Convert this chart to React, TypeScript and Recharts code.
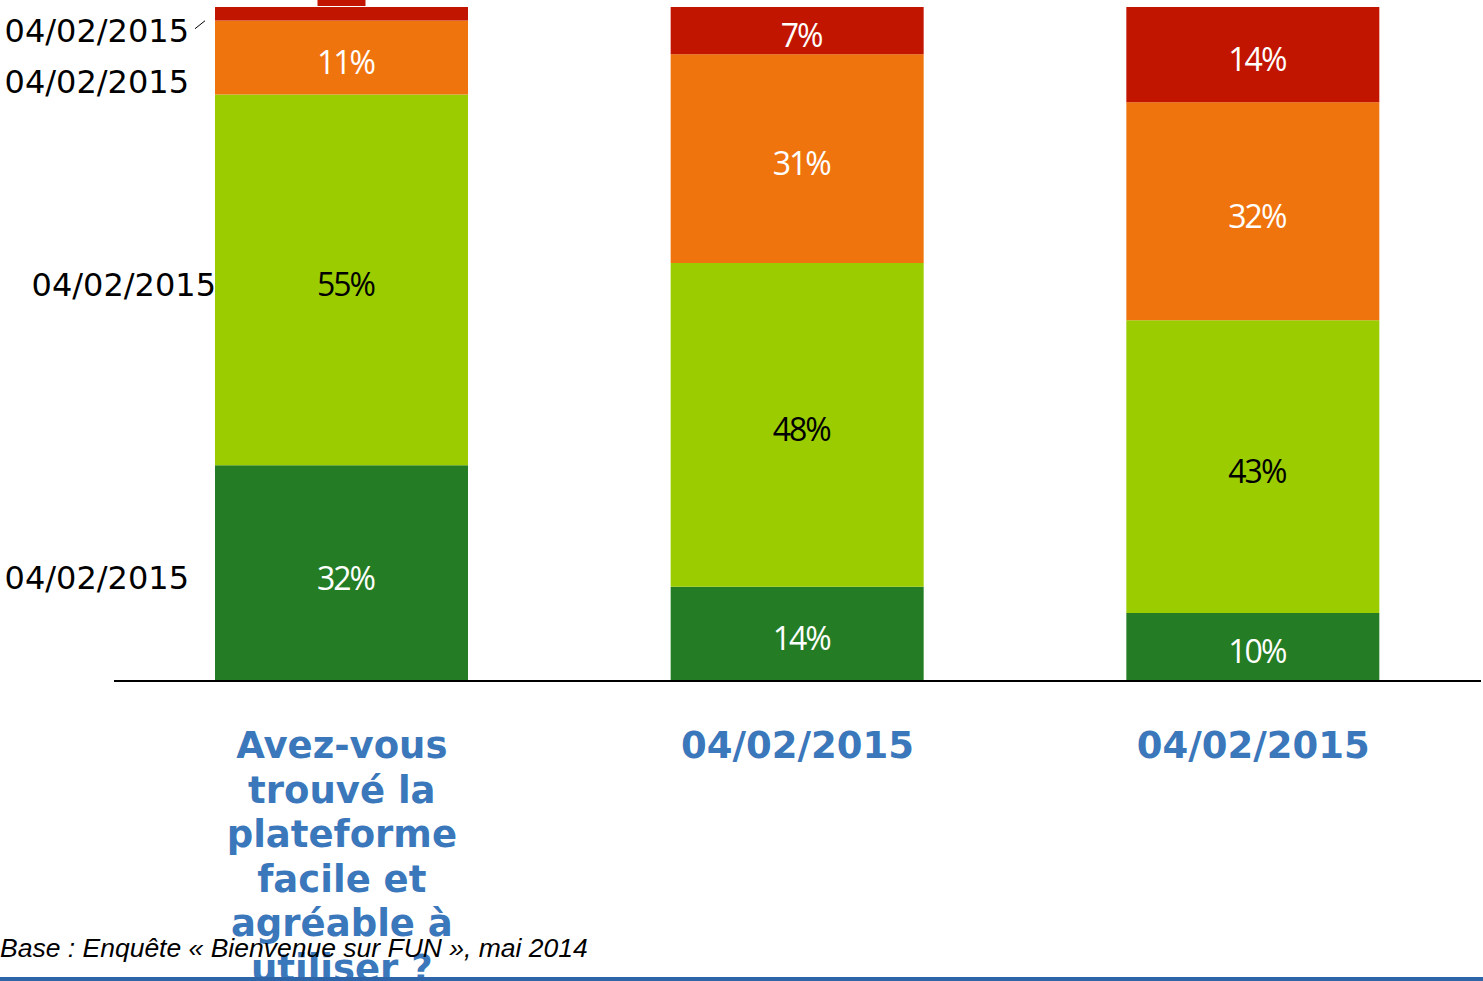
import React from 'react';
import { BarChart, Bar, XAxis, YAxis, LabelList } from 'recharts';

// questions on the x axis
const categories = [
  'Avez-vous trouvé la plateforme facile et agréable à utiliser ?',
  '04/02/2015',
  '04/02/2015',
];

// answer shares (%) per question, bottom to top of the stack
const tresFacile = [32, 14, 10];
const plutotFacile = [55, 48, 43];
const plutotDifficile = [11, 31, 32];
const tresDifficile = [2, 7, 14];

const seriesNames = ['04/02/2015', '04/02/2015', '04/02/2015', '04/02/2015'];

const footerText = 'Base : Enquête « Bienvenue sur FUN », mai 2014';

const data = categories.map((name, i) => ({
  name,
  s0: tresFacile[i],
  s1: plutotFacile[i],
  s2: plutotDifficile[i],
  s3: tresDifficile[i],
}));

const series = [
  { key: 's0', fill: '#247d24', text: '#ffffff', dx: -27, dy: 4.5 },
  { key: 's1', fill: '#9acc00', text: '#000000', dx: 0, dy: 4.5 },
  { key: 's2', fill: '#f0740e', text: '#ffffff', dx: -27, dy: 24 },
  { key: 's3', fill: '#c21500', text: '#ffffff', dx: -27, dy: 17, leader: true },
];

const valueFont = '"Open Sans", sans-serif';
const sansFont = '"DejaVu Sans", sans-serif';

const wrap = (s: string, max: number) => {
  const lines: string[] = [];
  let cur = '';
  s.split(' ').forEach((w) => {
    if (!cur) cur = w;
    else if ((cur + ' ' + w).length <= max) cur += ' ' + w;
    else {
      lines.push(cur);
      cur = w;
    }
  });
  if (cur) lines.push(cur);
  return lines;
};

const CategoryTick = (props: any) => {
  const { x, y, payload } = props;
  const lines = wrap(String(payload.value), 10);
  return (
    <text
      x={x}
      y={y}
      textAnchor="middle"
      fill="#3a77bb"
      fontFamily={sansFont}
      fontWeight="bold"
      fontSize={37}
    >
      {lines.map((l, i) => (
        <tspan key={i} x={x} y={y + 77 + i * 44.6}>
          {l}
        </tspan>
      ))}
    </text>
  );
};

const valueLabel = (textColor: string, boxColor: string) => (props: any) => {
  const { x, y, width, height, value } = props;
  const cx = Number(x) + Number(width) / 2 + 4;
  if (Number(height) < 20) {
    // too thin: label sits in a box above the bar
    return (
      <g>
        <rect x={cx - 28} y={Number(y) - 41} width={48} height={40} fill={boxColor} />
        <text
          x={cx}
          y={Number(y) - 21}
          textAnchor="middle"
          dominantBaseline="central"
          fill={textColor}
          fontFamily={valueFont}
          fontSize={32}
          letterSpacing={-2}
        >
          {value}%
        </text>
      </g>
    );
  }
  return (
    <text
      x={cx}
      y={Number(y) + Number(height) / 2 + 4}
      textAnchor="middle"
      dominantBaseline="central"
      fill={textColor}
      fontFamily={valueFont}
      fontSize={32}
      letterSpacing={-2}
    >
      {value}%
    </text>
  );
};

const seriesLabel = (name: string, dx: number, dy: number, leader?: boolean) => (props: any) => {
  const { x, y, height, index } = props;
  if (index !== 0) return null;
  const cy = Number(y) + Number(height) / 2;
  const ex = Number(x) + dx + 1;
  return (
    <g>
      <text
        x={ex}
        y={cy + dy + 11.5}
        textAnchor="end"
        fill="#000000"
        fontFamily={sansFont}
        fontSize={32}
      >
        {name}
      </text>
      {leader && (
        <line
          x1={Number(x) - 20}
          y1={cy + 15}
          x2={Number(x) - 10}
          y2={cy + 7}
          stroke="#000000"
          strokeWidth={1}
        />
      )}
    </g>
  );
};

export default function App() {
  return (
    <div style={{ position: 'absolute', left: 0, top: 0, width: 1483, height: 981, background: '#ffffff' }}>
      <BarChart
        width={1483}
        height={981}
        data={data}
        stackOffset="expand"
        margin={{ top: 7, right: 2, left: 114, bottom: 0 }}
      >
        <XAxis
          dataKey="name"
          height={300}
          tickLine={false}
          tickSize={0}
          tickMargin={0}
          axisLine={{ stroke: '#000000', strokeWidth: 2 }}
          tick={<CategoryTick />}
          interval={0}
        />
        <YAxis hide domain={[0, 1]} />
        {series.map((s, i) => (
          <Bar
            key={s.key}
            dataKey={s.key}
            stackId="a"
            fill={s.fill}
            barSize={253}
            isAnimationActive={false}
          >
            <LabelList dataKey={s.key} content={valueLabel(s.text, s.fill)} />
            <LabelList dataKey={s.key} content={seriesLabel(seriesNames[i], s.dx, s.dy, s.leader)} />
          </Bar>
        ))}
      </BarChart>
      <svg
        width={1483}
        height={981}
        style={{ position: 'absolute', left: 0, top: 0, pointerEvents: 'none' }}
      >
        <text
          x={0}
          y={957}
          fontFamily='"Liberation Sans", Arial, sans-serif'
          fontStyle="italic"
          fontSize={26.5}
          fill="#000000"
        >
          {footerText}
        </text>
        <rect x={0} y={977} width={1483} height={4} fill="#2e65a9" />
      </svg>
    </div>
  );
}
